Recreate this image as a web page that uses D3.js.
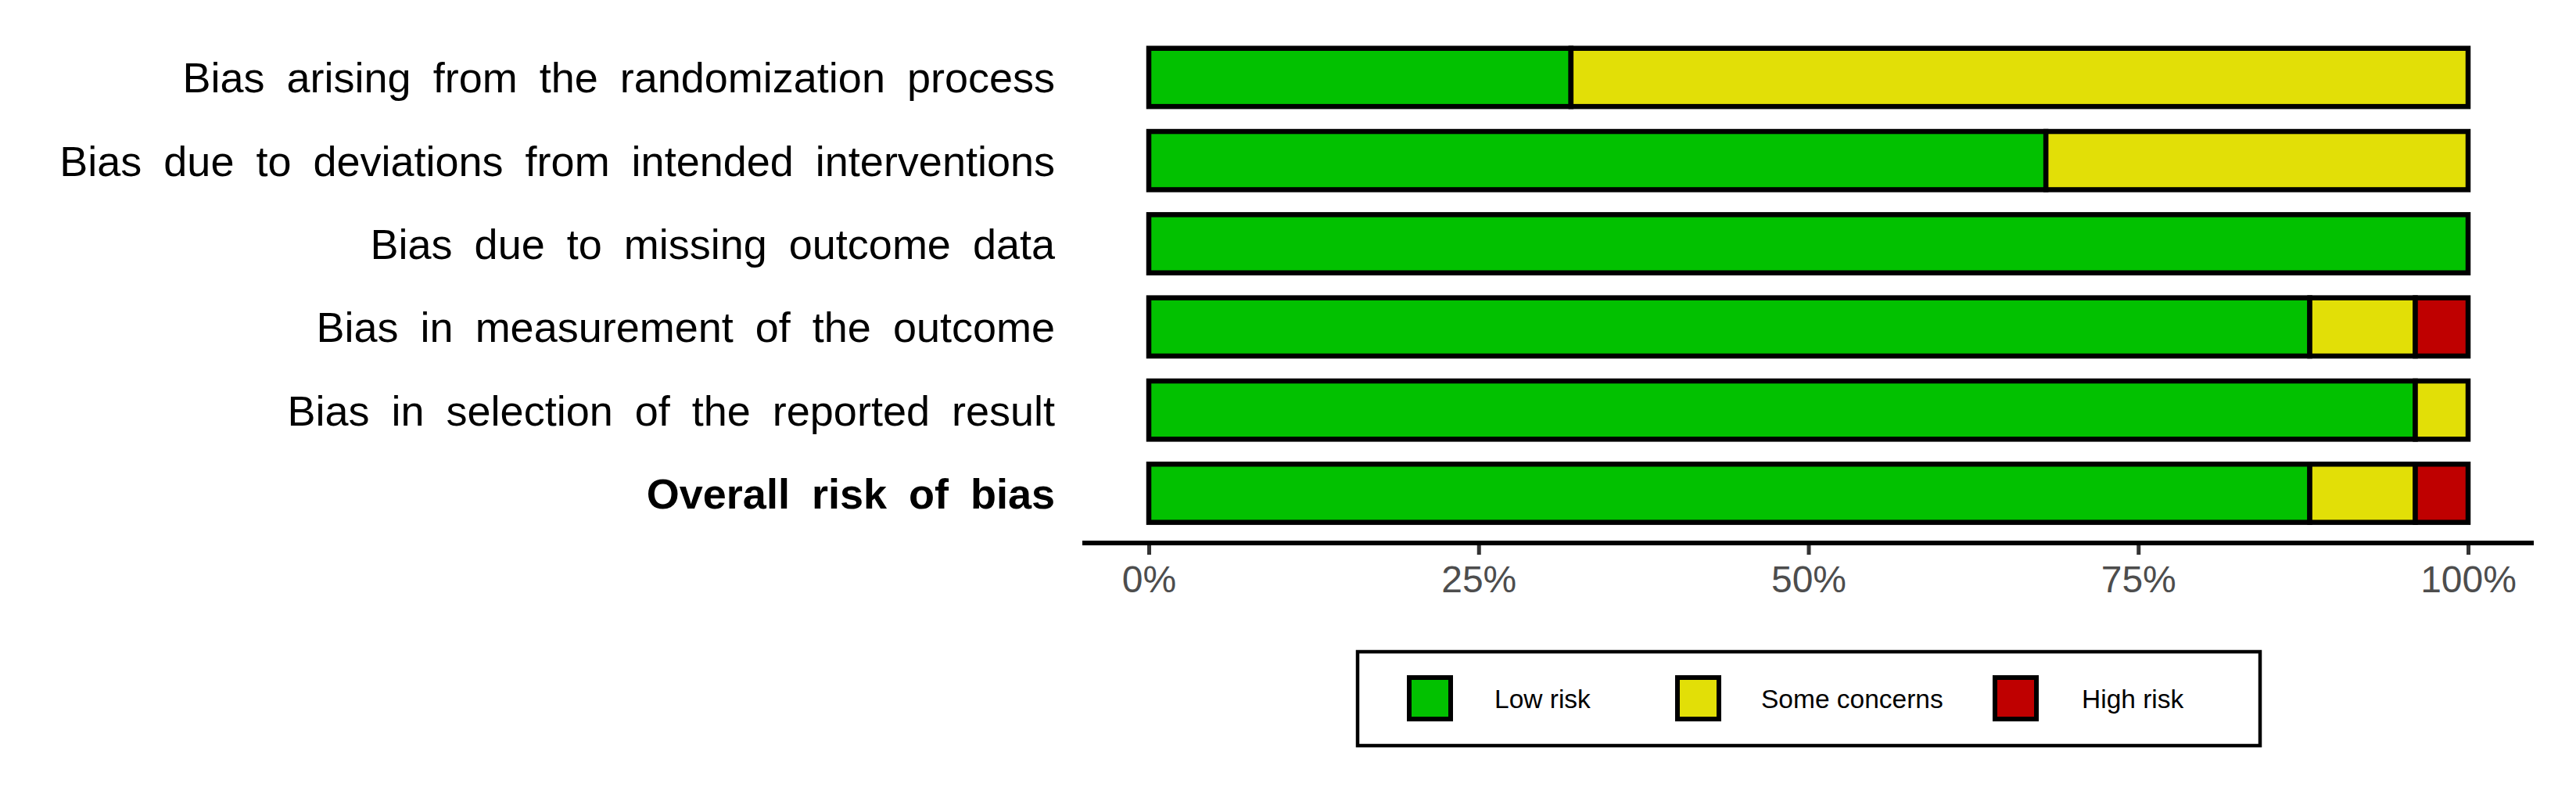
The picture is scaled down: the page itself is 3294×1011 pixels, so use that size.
<!DOCTYPE html>
<html>
<head>
<meta charset="utf-8">
<script src="https://cdn.jsdelivr.net/npm/d3@7"></script>
<style>
  html, body { margin: 0; padding: 0; background: #ffffff; }
  svg { display: block; }
</style>
</head>
<body>
<svg id="chart" width="3294" height="1011"></svg>
<script>
// ---- data ----
const categories = [
  "Bias arising from the randomization process",
  "Bias due to deviations from intended interventions",
  "Bias due to missing outcome data",
  "Bias in measurement of the outcome",
  "Bias in selection of the reported result",
  "Overall risk of bias"
];
const lowRisk      = [32, 68, 100, 88, 96, 88];
const someConcerns = [68, 32,   0,  8,  4,  8];
const highRisk     = [ 0,  0,   0,  4,  0,  4];
const seriesNames  = ["Low risk", "Some concerns", "High risk"];
const seriesColors = ["#02C100", "#E2DF07", "#BF0000"];
const tickValues   = [0, 25, 50, 75, 100];
const tickLabels   = ["0%", "25%", "50%", "75%", "100%"];

// ---- layout ----
const svg = d3.select("#chart");
const x = d3.scaleLinear().domain([0, 100]).range([1469, 3156]);
const y = d3.scaleBand().domain(categories).range([45.8, 683.6])
  .paddingInner(0.3) .paddingOuter(0.15);

const rows = categories.map((c, i) => {
  const vals = [lowRisk[i], someConcerns[i], highRisk[i]];
  let acc = 0;
  return vals.map((v, k) => {
    const seg = { cat: c, k, x0: acc, x1: acc + v };
    acc += v;
    return seg;
  }).filter(s => s.x1 > s.x0);
});

// bars
svg.append("g").selectAll("g.row")
  .data(rows).join("g")
  .selectAll("rect")
  .data(d => d).join("rect")
  .attr("x", d => x(d.x0))
  .attr("y", d => y(d.cat))
  .attr("width", d => x(d.x1) - x(d.x0))
  .attr("height", y.bandwidth())
  .attr("fill", d => seriesColors[d.k])
  .attr("stroke", "#000")
  .attr("stroke-width", 6.5);

// category labels
svg.append("g").selectAll("text")
  .data(categories).join("text")
  .attr("x", 1349)
  .attr("y", d => y(d) + y.bandwidth() / 2)
  .attr("dy", "0.36em")
  .attr("text-anchor", "end")
  .attr("font-family", "Liberation Sans, Arial, sans-serif")
  .attr("font-size", 54)
  .attr("word-spacing", 13)
  .attr("font-weight", (d, i) => i === categories.length - 1 ? "bold" : "normal")
  .attr("fill", "#000")
  .text(d => d);

// x axis
const axis = d3.axisBottom(x).tickValues(tickValues)
  .tickFormat((d, i) => tickLabels[i]).tickSize(12).tickPadding(14);
const gx = svg.append("g").attr("transform", "translate(0,697)").call(axis);
gx.select(".domain").remove();
gx.selectAll(".tick line").attr("stroke", "#333").attr("stroke-width", 5);
gx.selectAll(".tick text")
  .attr("font-family", "Liberation Sans, Arial, sans-serif")
  .attr("font-size", 48)
  .attr("fill", "#4D4D4D");
svg.append("line")
  .attr("x1", 1384).attr("x2", 3240)
  .attr("y1", 694).attr("y2", 694)
  .attr("stroke", "#000").attr("stroke-width", 6);

// legend
const legendKeyX = [1802, 2145, 2551];
const legendTextX = [1911, 2252, 2662];
const lg = svg.append("g");
lg.append("rect")
  .attr("x", 1736).attr("y", 833).attr("width", 1154).attr("height", 120)
  .attr("fill", "#fff").attr("stroke", "#000").attr("stroke-width", 4.5);
lg.selectAll("rect.key")
  .data(seriesNames).join("rect").attr("class", "key")
  .attr("x", (d, i) => legendKeyX[i]).attr("y", 866)
  .attr("width", 53).attr("height", 53)
  .attr("fill", (d, i) => seriesColors[i])
  .attr("stroke", "#000").attr("stroke-width", 6);
lg.selectAll("text")
  .data(seriesNames).join("text")
  .attr("x", (d, i) => legendTextX[i]).attr("y", 893)
  .attr("dy", "0.36em")
  .attr("font-family", "Liberation Sans, Arial, sans-serif")
  .attr("font-size", 33.5)
  .attr("fill", "#000")
  .text(d => d);
</script>
</body>
</html>
